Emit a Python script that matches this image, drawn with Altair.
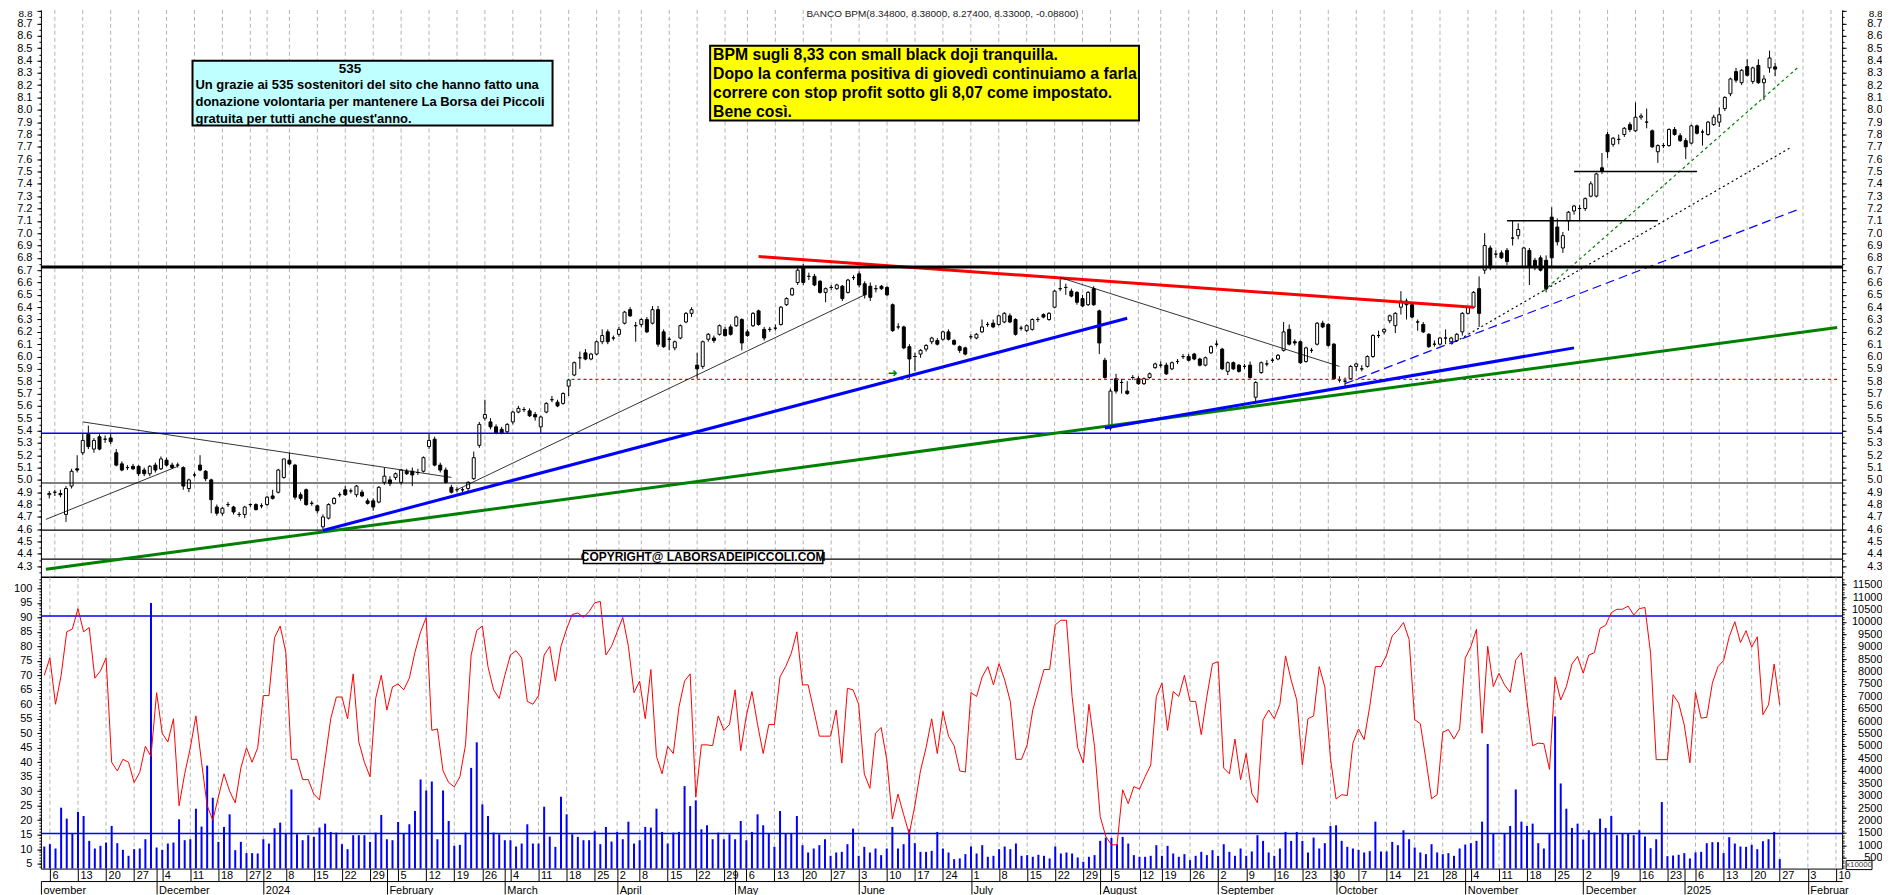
import json
import numpy as np
import pandas as pd
import altair as alt

# ---------------- calendar (Borsa Italiana trading days) ----------------
HOLIDAYS = ["2023-12-25", "2023-12-26", "2024-01-01", "2024-03-29", "2024-04-01",
            "2024-05-01", "2024-08-15", "2024-12-24", "2024-12-25", "2024-12-26",
            "2024-12-31", "2025-01-01"]
_all = pd.bdate_range("2023-11-03", "2025-02-14")
DAYS = _all[~_all.isin(pd.to_datetime(HOLIDAYS))]
POS = {d.strftime("%Y-%m-%d"): i for i, d in enumerate(DAYS)}

WEEK_TICKS = ["2023-11-06", "2023-11-13", "2023-11-20", "2023-11-27", "2023-12-04", "2023-12-11", "2023-12-18",
              "2023-12-27", "2024-01-02", "2024-01-08", "2024-01-15", "2024-01-22", "2024-01-29", "2024-02-05",
              "2024-02-12", "2024-02-19", "2024-02-26", "2024-03-04", "2024-03-11", "2024-03-18", "2024-03-25",
              "2024-04-02", "2024-04-08", "2024-04-15", "2024-04-22", "2024-04-29", "2024-05-06", "2024-05-13",
              "2024-05-20", "2024-05-27", "2024-06-03", "2024-06-10", "2024-06-17", "2024-06-24", "2024-07-01",
              "2024-07-08", "2024-07-15", "2024-07-22", "2024-07-29", "2024-08-05", "2024-08-12", "2024-08-19",
              "2024-08-26", "2024-09-02", "2024-09-09", "2024-09-16", "2024-09-23", "2024-09-30", "2024-10-07",
              "2024-10-14", "2024-10-21", "2024-10-28", "2024-11-04", "2024-11-11", "2024-11-18", "2024-11-25",
              "2024-12-02", "2024-12-09", "2024-12-16", "2024-12-23", "2025-01-06", "2025-01-13", "2025-01-20",
              "2025-01-27", "2025-02-03", "2025-02-10"]
MONTH_TICKS = ["2023-12-01", "2024-01-02", "2024-02-01", "2024-03-01", "2024-04-02", "2024-05-02", "2024-06-03",
               "2024-07-01", "2024-08-01", "2024-09-02", "2024-10-01", "2024-11-01", "2024-12-02", "2025-01-02",
               "2025-02-03"]
FIRST_MONTH_LABEL = "ovember"
MONTH_LABELS = ["December", "2024", "February", "March", "April", "May", "June", "July", "August",
                "September", "October", "November", "December", "2025", "Februar"]

# ---------------- daily OHLC (BANCO BPM) ----------------
OPEN = [
    4.88, 4.90, 4.89, 4.72, 4.95, 5.09, 5.22, 5.37, 5.25, 5.35,
    5.33, 5.34, 5.22, 5.13, 5.10, 5.11, 5.11, 5.08, 5.05, 5.12,
    5.09, 5.16, 5.12, 5.12, 5.10, 4.93, 5.04, 5.12, 5.07, 5.00,
    4.78, 4.73, 4.80, 4.78, 4.72, 4.72, 4.80, 4.80, 4.79, 4.80,
    4.87, 4.90, 5.02, 5.16, 5.12, 4.88, 4.92, 4.81, 4.79, 4.62,
    4.69, 4.81, 4.88, 4.92, 4.91, 4.88, 4.90, 4.83, 4.83, 4.82,
    4.98, 5.00, 5.02, 4.98, 5.07, 5.07, 5.06, 5.07, 5.27, 5.33,
    5.12, 5.08, 4.94, 4.92, 4.92, 4.93, 5.01, 5.28, 5.50, 5.47,
    5.43, 5.41, 5.39, 5.47, 5.55, 5.57, 5.56, 5.53, 5.43, 5.55,
    5.65, 5.63, 5.62, 5.76, 5.85, 5.99, 6.03, 5.98, 6.02, 6.12,
    6.20, 6.15, 6.18, 6.27, 6.38, 6.25, 6.26, 6.30, 6.27, 6.38,
    6.20, 6.14, 6.07, 6.15, 6.28, 6.35, 5.93, 5.92, 6.14, 6.15,
    6.18, 6.22, 6.24, 6.25, 6.30, 6.20, 6.25, 6.37, 6.22, 6.22,
    6.23, 6.26, 6.42, 6.50, 6.60, 6.72, 6.65, 6.65, 6.61, 6.52,
    6.56, 6.55, 6.57, 6.52, 6.64, 6.67, 6.59, 6.57, 6.55, 6.57,
    6.56, 6.42, 6.24, 6.24, 6.08, 6.00, 6.02, 6.06, 6.12, 6.13,
    6.14, 6.20, 6.13, 6.08, 6.07, 6.16, 6.15, 6.20, 6.26, 6.27,
    6.26, 6.28, 6.33, 6.30, 6.23, 6.21, 6.22, 6.30, 6.34, 6.30,
    6.40, 6.55, 6.56, 6.53, 6.52, 6.47, 6.42, 6.55, 6.37, 5.97,
    5.42, 5.82, 5.79, 5.72, 5.83, 5.82, 5.78, 5.83, 5.91, 5.93,
    5.93, 5.90, 5.96, 6.00, 6.00, 6.02, 5.98, 5.93, 6.03, 6.10,
    6.06, 5.88, 5.95, 5.93, 5.92, 5.93, 5.67, 5.87, 5.94, 5.97,
    5.98, 6.05, 6.22, 6.12, 6.12, 5.96, 6.05, 6.10, 6.27, 6.26,
    6.10, 5.81, 5.80, 5.82, 5.92, 5.90, 5.92, 6.00, 6.17, 6.20,
    6.29, 6.25, 6.40, 6.45, 6.42, 6.28, 6.26, 6.18, 6.10, 6.10,
    6.15, 6.12, 6.13, 6.20, 6.35, 6.40, 6.55, 6.70, 6.88, 6.83,
    6.84, 6.86, 6.96, 6.98, 6.73, 6.86, 6.78, 6.80, 6.78, 7.13,
    7.05, 6.88, 7.10, 7.18, 7.20, 7.20, 7.30, 7.30, 7.53, 7.80,
    7.72, 7.76, 7.80, 7.88, 7.83, 7.94, 7.90, 7.83, 7.66, 7.71,
    7.71, 7.84, 7.79, 7.75, 7.73, 7.87, 7.82, 7.80, 7.88, 7.90,
    8.01, 8.13, 8.31, 8.22, 8.35, 8.23, 8.36, 8.22, 8.34, 8.348,
]
HIGH = [
    4.91, 4.92, 4.92, 4.95, 5.09, 5.20, 5.38, 5.44, 5.34, 5.37,
    5.36, 5.38, 5.25, 5.15, 5.12, 5.13, 5.12, 5.10, 5.12, 5.14,
    5.19, 5.18, 5.14, 5.14, 5.11, 5.01, 5.06, 5.20, 5.08, 5.01,
    4.80, 4.78, 4.82, 4.79, 4.74, 4.79, 4.81, 4.81, 4.81, 4.87,
    4.92, 5.09, 5.17, 5.22, 5.13, 4.90, 4.93, 4.83, 4.80, 4.72,
    4.81, 4.86, 4.90, 4.95, 4.93, 4.96, 4.92, 4.85, 4.85, 4.95,
    5.10, 5.03, 5.06, 5.09, 5.09, 5.10, 5.09, 5.19, 5.38, 5.35,
    5.14, 5.10, 4.96, 4.94, 4.94, 4.99, 5.23, 5.47, 5.65, 5.50,
    5.45, 5.43, 5.46, 5.56, 5.60, 5.59, 5.58, 5.55, 5.52, 5.63,
    5.68, 5.65, 5.71, 5.82, 5.96, 6.04, 6.06, 6.03, 6.13, 6.22,
    6.22, 6.17, 6.24, 6.37, 6.40, 6.28, 6.31, 6.32, 6.41, 6.41,
    6.22, 6.16, 6.13, 6.26, 6.36, 6.40, 6.03, 6.13, 6.19, 6.17,
    6.26, 6.24, 6.26, 6.33, 6.31, 6.22, 6.36, 6.38, 6.24, 6.24,
    6.26, 6.41, 6.48, 6.56, 6.73, 6.75, 6.68, 6.67, 6.62, 6.56,
    6.58, 6.59, 6.58, 6.63, 6.66, 6.69, 6.61, 6.60, 6.58, 6.58,
    6.57, 6.43, 6.27, 6.25, 6.10, 6.03, 6.06, 6.10, 6.16, 6.15,
    6.21, 6.22, 6.14, 6.09, 6.08, 6.18, 6.19, 6.30, 6.28, 6.30,
    6.34, 6.36, 6.35, 6.31, 6.25, 6.26, 6.31, 6.32, 6.35, 6.36,
    6.54, 6.63, 6.59, 6.55, 6.53, 6.50, 6.53, 6.57, 6.38, 5.99,
    5.74, 5.86, 5.82, 5.80, 5.85, 5.84, 5.83, 5.87, 5.95, 5.96,
    5.95, 5.96, 5.98, 6.02, 6.02, 6.03, 5.99, 6.00, 6.09, 6.13,
    6.07, 5.96, 5.96, 5.94, 5.94, 5.96, 5.80, 5.96, 5.97, 5.99,
    6.02, 6.28, 6.26, 6.14, 6.13, 6.08, 6.07, 6.28, 6.29, 6.27,
    6.11, 5.84, 5.83, 5.93, 5.95, 5.93, 6.01, 6.18, 6.21, 6.23,
    6.34, 6.36, 6.53, 6.47, 6.43, 6.30, 6.28, 6.19, 6.13, 6.16,
    6.22, 6.16, 6.19, 6.36, 6.41, 6.53, 6.65, 7.00, 6.90, 6.86,
    6.86, 6.88, 7.10, 7.08, 6.89, 6.88, 6.80, 6.82, 6.82, 7.21,
    7.12, 7.01, 7.18, 7.23, 7.23, 7.29, 7.42, 7.49, 7.65, 7.82,
    7.78, 7.80, 7.86, 7.90, 8.06, 7.97, 8.01, 7.84, 7.72, 7.73,
    7.85, 7.86, 7.81, 7.77, 7.88, 7.88, 7.84, 7.91, 7.96, 8.02,
    8.11, 8.26, 8.34, 8.33, 8.41, 8.35, 8.41, 8.28, 8.48, 8.38,
]
LOW = [
    4.85, 4.87, 4.86, 4.66, 4.93, 5.06, 5.20, 5.25, 5.22, 5.24,
    5.30, 5.29, 5.11, 5.07, 5.08, 5.08, 5.03, 5.03, 5.03, 5.06,
    5.08, 5.11, 5.09, 5.10, 4.92, 4.90, 5.02, 5.07, 4.99, 4.73,
    4.71, 4.71, 4.78, 4.72, 4.70, 4.69, 4.78, 4.75, 4.77, 4.79,
    4.84, 4.89, 5.01, 5.12, 4.84, 4.83, 4.79, 4.79, 4.73, 4.60,
    4.68, 4.80, 4.86, 4.87, 4.89, 4.86, 4.86, 4.80, 4.75, 4.81,
    4.96, 4.95, 5.00, 4.96, 5.04, 4.95, 5.04, 5.06, 5.25, 5.11,
    5.06, 4.97, 4.89, 4.90, 4.90, 4.91, 5.00, 5.26, 5.48, 5.41,
    5.37, 5.37, 5.38, 5.45, 5.54, 5.55, 5.51, 5.48, 5.38, 5.54,
    5.63, 5.59, 5.61, 5.68, 5.84, 5.90, 5.97, 5.97, 6.01, 6.10,
    6.10, 6.13, 6.16, 6.26, 6.32, 6.12, 6.24, 6.19, 6.26, 6.08,
    6.07, 6.05, 6.05, 6.14, 6.27, 6.32, 5.82, 5.90, 6.12, 6.11,
    6.17, 6.16, 6.17, 6.24, 6.05, 6.16, 6.24, 6.25, 6.13, 6.20,
    6.21, 6.25, 6.41, 6.49, 6.58, 6.58, 6.62, 6.57, 6.51, 6.44,
    6.54, 6.54, 6.45, 6.51, 6.62, 6.56, 6.47, 6.45, 6.52, 6.54,
    6.49, 6.20, 6.22, 6.06, 5.82, 5.88, 5.99, 6.04, 6.10, 6.09,
    6.13, 6.13, 6.09, 6.03, 6.01, 6.14, 6.14, 6.19, 6.24, 6.23,
    6.25, 6.27, 6.27, 6.17, 6.21, 6.20, 6.21, 6.28, 6.31, 6.29,
    6.39, 6.53, 6.50, 6.48, 6.42, 6.40, 6.41, 6.41, 6.02, 5.82,
    5.40, 5.70, 5.70, 5.69, 5.81, 5.77, 5.77, 5.82, 5.90, 5.91,
    5.85, 5.89, 5.94, 5.98, 5.96, 5.97, 5.92, 5.92, 6.02, 6.08,
    5.89, 5.85, 5.89, 5.87, 5.90, 5.82, 5.62, 5.86, 5.92, 5.95,
    5.97, 6.04, 6.09, 6.09, 5.94, 5.95, 6.03, 6.09, 6.23, 6.08,
    5.81, 5.79, 5.75, 5.81, 5.88, 5.88, 5.91, 5.99, 6.15, 6.18,
    6.27, 6.19, 6.34, 6.30, 6.31, 6.21, 6.19, 6.07, 6.08, 6.09,
    6.10, 6.11, 6.12, 6.17, 6.34, 6.39, 6.24, 6.67, 6.70, 6.80,
    6.79, 6.74, 6.90, 6.95, 6.72, 6.58, 6.70, 6.69, 6.52, 6.72,
    6.90, 6.84, 7.02, 7.15, 7.10, 7.18, 7.29, 7.29, 7.48, 7.61,
    7.70, 7.72, 7.78, 7.82, 7.82, 7.92, 7.85, 7.69, 7.57, 7.69,
    7.70, 7.79, 7.74, 7.60, 7.72, 7.80, 7.71, 7.79, 7.87, 7.86,
    7.99, 8.11, 8.22, 8.20, 8.27, 8.21, 8.21, 8.08, 8.30, 8.274,
]
CLOSE = [
    4.89, 4.90, 4.88, 4.93, 5.07, 5.08, 5.32, 5.27, 5.32, 5.25,
    5.33, 5.31, 5.12, 5.08, 5.10, 5.09, 5.05, 5.05, 5.11, 5.08,
    5.17, 5.12, 5.10, 5.12, 4.95, 5.00, 5.04, 5.08, 5.01, 4.84,
    4.73, 4.77, 4.80, 4.74, 4.72, 4.78, 4.80, 4.76, 4.79, 4.86,
    4.85, 5.08, 5.17, 5.13, 4.86, 4.85, 4.80, 4.81, 4.75, 4.70,
    4.80, 4.85, 4.88, 4.88, 4.91, 4.95, 4.87, 4.81, 4.78, 4.94,
    5.03, 4.97, 5.05, 5.08, 5.05, 5.04, 5.06, 5.18, 5.32, 5.12,
    5.08, 4.98, 4.90, 4.92, 4.92, 4.98, 5.18, 5.45, 5.53, 5.43,
    5.38, 5.38, 5.45, 5.55, 5.58, 5.57, 5.52, 5.51, 5.51, 5.62,
    5.65, 5.60, 5.70, 5.81, 5.95, 5.99, 5.98, 6.02, 6.12, 6.17,
    6.12, 6.15, 6.22, 6.36, 6.33, 6.25, 6.30, 6.20, 6.38, 6.10,
    6.08, 6.14, 6.12, 6.25, 6.35, 6.38, 5.90, 6.12, 6.18, 6.13,
    6.25, 6.17, 6.18, 6.32, 6.11, 6.17, 6.35, 6.26, 6.15, 6.22,
    6.23, 6.40, 6.47, 6.55, 6.70, 6.60, 6.65, 6.58, 6.52, 6.55,
    6.56, 6.58, 6.47, 6.62, 6.64, 6.58, 6.50, 6.48, 6.55, 6.55,
    6.50, 6.21, 6.24, 6.07, 5.98, 6.00, 6.05, 6.09, 6.15, 6.10,
    6.20, 6.14, 6.10, 6.05, 6.02, 6.16, 6.18, 6.24, 6.26, 6.24,
    6.33, 6.35, 6.28, 6.18, 6.23, 6.25, 6.30, 6.30, 6.32, 6.35,
    6.53, 6.55, 6.56, 6.49, 6.44, 6.41, 6.52, 6.42, 6.11, 5.83,
    5.72, 5.72, 5.79, 5.70, 5.83, 5.78, 5.82, 5.86, 5.94, 5.93,
    5.86, 5.95, 5.96, 6.00, 5.97, 5.98, 5.93, 5.99, 6.08, 6.10,
    5.90, 5.95, 5.90, 5.88, 5.92, 5.83, 5.79, 5.95, 5.94, 5.97,
    6.01, 6.20, 6.10, 6.11, 5.95, 6.07, 6.05, 6.27, 6.24, 6.09,
    5.82, 5.81, 5.80, 5.92, 5.94, 5.90, 6.00, 6.17, 6.17, 6.22,
    6.33, 6.35, 6.45, 6.42, 6.32, 6.28, 6.20, 6.08, 6.10, 6.15,
    6.15, 6.15, 6.18, 6.35, 6.40, 6.52, 6.35, 6.90, 6.72, 6.83,
    6.80, 6.77, 6.96, 7.03, 6.88, 6.73, 6.72, 6.70, 6.55, 6.80,
    6.93, 6.98, 7.17, 7.22, 7.20, 7.28, 7.40, 7.48, 7.50, 7.66,
    7.77, 7.76, 7.85, 7.84, 7.94, 7.95, 7.90, 7.70, 7.71, 7.71,
    7.84, 7.80, 7.75, 7.70, 7.87, 7.81, 7.82, 7.90, 7.94, 7.96,
    8.10, 8.25, 8.24, 8.32, 8.28, 8.34, 8.22, 8.25, 8.42, 8.33,
]

# ---------------- stochastic oscillator (left scale) ----------------
STOCH = [
    70, 76, 60, 70, 85, 86, 93, 85, 86.5, 69,
    71.5, 76, 40, 37, 41, 40, 33, 36.5, 45.5, 42,
    64, 50, 47, 55, 25, 36, 45, 56, 40, 25,
    20, 28, 36, 30, 26, 38, 45, 40, 45, 63,
    63, 83, 87, 78, 41, 41, 34, 34, 29, 27,
    41, 55, 62.5, 62.5, 55, 70.5, 47, 40, 35, 62,
    70, 58, 66, 67, 65, 69, 78, 85, 90, 51,
    51.5, 37, 33, 31.5, 35, 46, 77, 85.5, 87, 73,
    65, 62, 70, 77, 78.5, 76, 61, 60, 63, 77,
    80, 68, 80, 86, 91, 91.5, 90, 92, 95, 95.5,
    77, 80, 85, 90, 80, 64, 68, 55, 72, 42,
    36, 45.5, 43, 59, 68, 70.5, 28, 46, 46, 45.7,
    56, 51, 53, 65, 44, 56, 64.4, 53, 43, 53,
    53, 69.5, 73, 77.6, 85, 66.7, 66.7, 58, 49, 49,
    49, 58, 39.7, 65.5, 65, 60, 36, 31, 50, 52,
    41, 20.4, 29, 22, 15.2, 25, 37, 45, 55, 43,
    57.5, 49, 45.7, 37, 36.6, 64, 62.7, 69.5, 73, 66.7,
    74, 68.4, 61, 41, 41, 46, 58, 65, 72, 72,
    87.4, 89, 89, 62.7, 45, 39.7, 60, 45.4, 21.3, 14.4,
    11.5, 11.5, 30.5, 25.7, 31.6, 30.7, 35, 39, 62.7, 67.3,
    51, 64.4, 62.7, 70, 61, 61, 49.5, 62.7, 74, 74.7,
    38, 36, 48, 34, 43, 29.3, 26, 54.6, 58, 55,
    60, 76.7, 68.4, 61.5, 39, 55, 56, 73, 66, 41.4,
    27.3, 28.8, 28.5, 46.6, 51.5, 47.8, 59.3, 73, 73, 77,
    83.6, 85.6, 88.2, 82.4, 54.7, 53.3, 40.9, 27.4, 28.8, 50.3,
    51.3, 48, 51.5, 75.9, 79.9, 85.9, 50, 80, 66.1, 70.7,
    66.7, 64.1, 75.3, 77.8, 61, 45.7, 46.6, 46.4, 37.5, 69.4,
    61.5, 66.1, 73.9, 76.5, 70.7, 77, 77.8, 86.2, 87.3, 91.6,
    92.8, 92.8, 93.9, 90.8, 93, 93.4, 77.6, 40.9, 40.9, 40.9,
    63.3, 60.4, 52.8, 39.8, 64.1, 55.2, 55.5, 67.3, 73, 75.1,
    83.3, 88.5, 81.3, 85.4, 79.7, 83.3, 56.4, 59.8, 73.9, 59.8,
]

# ---------------- volume (right scale, x10000) ----------------
VOLUME = [
    950, 1043, 869, 2513, 2072, 1470, 2339, 2178, 1176, 869,
    976, 1109, 1778, 1083, 815, 575, 842, 869, 1243, 10760,
    909, 815, 1069, 1109, 2045, 1203, 1243, 2473, 1751, 4210,
    2914, 1136, 1738, 2246, 802, 1136, 682, 682, 668, 1243,
    1069, 1684, 1912, 1470, 3248, 1444, 1203, 1404, 1337, 1711,
    1871, 1537, 1510, 1043, 842, 1404, 1404, 1404, 1136, 1510,
    2219, 1243, 1203, 1938, 1470, 1845, 2380, 3649, 3208, 3569,
    1243, 3208, 1978, 976, 1016, 1510, 4117, 5146, 2647, 2178,
    1510, 1444, 1203, 1203, 950, 1069, 1845, 1069, 1069, 2553,
    1350, 936, 2954, 2246, 1444, 1337, 1203, 1203, 1564, 1043,
    1738, 1149, 1537, 1243, 1951, 1069, 1203, 1738, 1711, 2473,
    1537, 1069, 1510, 1537, 3382, 2580, 2807, 1644, 1805, 1243,
    1510, 1243, 1444, 1243, 1978, 1203, 1537, 2246, 1805, 1470,
    936, 2380, 1470, 1470, 2178, 1003, 709, 869, 1003, 1243,
    575, 709, 735, 1043, 1671, 575, 936, 709, 869, 602,
    869, 1738, 869, 1043, 1644, 1083, 735, 735, 775, 1537,
    869, 709, 441, 468, 642, 949, 668, 1003, 535, 575,
    842, 949, 842, 1069, 575, 602, 535, 615, 575, 468,
    949, 668, 709, 668, 508, 334, 535, 602, 1176, 1310,
    1296, 1043, 1337, 1069, 602, 535, 535, 575, 1003, 575,
    976, 668, 535, 642, 401, 575, 735, 602, 802, 575,
    1043, 735, 575, 869, 575, 749, 1404, 1176, 709, 575,
    869, 1537, 1176, 1537, 1176, 709, 1310, 869, 1083, 1778,
    1805, 1176, 936, 869, 815, 709, 762, 1951, 749, 749,
    1136, 1003, 1604, 1243, 909, 709, 642, 1043, 709, 642,
    682, 575, 869, 1029, 1083, 1176, 1951, 5080, 1470, 67,
    1470, 1778, 3248, 1951, 1778, 1871, 1083, 869, 1470, 6189,
    3489, 2473, 1698, 1871, 1229, 1604, 1510, 2072, 1698, 2178,
    1404, 1470, 1470, 1404, 1604, 1350, 882, 1243, 2739, 561,
    588, 615, 682, 468, 709, 735, 1083, 1123, 1123, 682,
    1323, 1069, 949, 936, 1016, 842, 1163, 1243, 1537, 441,
]

# ---------------- drawn levels / trend lines (trading-day index, price) ----------------
H_LEVELS_BLACK_THICK = [6.725]
H_LEVELS_BLUE = [5.378]
H_LEVELS_BLACK = [4.975, 4.593, 4.358]
RED_DASH_LEVEL = (93.5, 320.1, 5.815)
THIN_BLACK_LINES = [(-0.6, 4.68, 23, 5.11), (6, 5.47, 72, 5.02), (73, 4.92, 146, 6.50), (181, 6.64, 231, 5.92)]
THICK_BLUE_LINES = [(49, 4.59, 193, 6.31), (189, 5.42, 273, 6.07)]
THICK_GREEN_LINES = [(-0.6, 4.275, 320.1, 6.235)]
THICK_RED_LINES = [(127, 6.81, 255, 6.40)]
DASHED_BLUE_LINES = [(232, 5.78, 313, 7.19)]
DOTTED_BLACK_LINES = [(251, 6.10, 312, 7.70)]
DOTTED_GREEN_LINES = [(267.5, 6.53, 313, 8.34)]
SHORT_BLACK_LEVELS = [(261, 7.10, 288, 7.10), (273, 7.50, 295, 7.50)]
STOCH_LEVELS = [90.5, 15.4]

TITLE = "BANCO BPM(8.34800, 8.38000, 8.27400, 8.33000, -0.08800)"
NOTE_CYAN_HEAD = "535"
NOTE_CYAN = ["Un grazie ai 535 sostenitori del sito che hanno fatto una",
             "donazione volontaria per mantenere La Borsa dei Piccoli",
             "gratuita per tutti anche quest'anno."]
NOTE_YELLOW = ["BPM sugli 8,33 con small black doji tranquilla.",
               "Dopo la conferma positiva di giovedì continuiamo a farla",
               "correre con stop profit sotto gli 8,07 come impostato.",
               "Bene così."]
COPYRIGHT = "COPYRIGHT@ LABORSADEIPICCOLI.COM"

assert len(OPEN) == len(HIGH) == len(LOW) == len(CLOSE) == len(STOCH) == len(VOLUME) == 310

# ---------------- frames ----------------
cd = pd.DataFrame({"i": np.arange(len(CLOSE)), "o": OPEN, "h": HIGH, "l": LOW, "c": CLOSE,
                   "s": STOCH, "v": VOLUME})
cd["h"] = cd[["h", "o", "c"]].max(axis=1)
cd["l"] = cd[["l", "o", "c"]].min(axis=1)
cd["fill"] = np.where(cd["c"] >= cd["o"], "white", "black")

WEEK_IDX = [POS[d] for d in WEEK_TICKS]
MONTH_IDX = [POS[d] for d in MONTH_TICKS]
wk = pd.DataFrame({"i": WEEK_IDX})

W, H_TOP, H_BOT = 1806, 569, 292
X_DOM = [-0.6, 320.1]
P_DOM = [4.21, 8.81]
S_DOM = [3.3, 103.8]
V_DOM = [60, 11793]
FONT = "Liberation Sans"

xs = alt.Scale(domain=X_DOM, nice=False, zero=False)
ps = alt.Scale(domain=P_DOM, nice=False, zero=False)
ss = alt.Scale(domain=S_DOM, nice=False, zero=False)
vs = alt.Scale(domain=V_DOM, nice=False, zero=False, clamp=True)


def X(f="i"):
    return alt.X(f"{f}:Q", scale=xs, axis=None)


def seg_df(lines):
    return pd.DataFrame(lines, columns=["x1", "y1", "x2", "y2"])


def segs(lines, color, width, dash=None):
    kw = dict(color=color, strokeWidth=width)
    if dash:
        kw["strokeDash"] = dash
    return alt.Chart(seg_df(lines)).mark_rule(**kw).encode(
        x=X("x1"), x2="x2:Q", y=alt.Y("y1:Q", scale=ps, axis=None), y2="y2:Q")


def hlev(levels, color, width):
    return alt.Chart(pd.DataFrame({"y": levels})).mark_rule(color=color, strokeWidth=width).encode(
        y=alt.Y("y:Q", scale=ps, axis=None))


def label(text, x, y, size, weight="normal", align="left", font=FONT, color="black", baseline="middle"):
    return alt.Chart(pd.DataFrame({"t": [text]})).mark_text(
        align=align, baseline=baseline, font=font, fontSize=size, fontWeight=weight, color=color
    ).encode(x=alt.value(x), y=alt.value(y), text="t:N")


def box(x1, y1, x2, y2, fill, sw):
    return alt.Chart(pd.DataFrame({"a": [0]})).mark_rect(fill=fill, stroke="black", strokeWidth=sw).encode(
        x=alt.value(x1), x2=alt.value(x2), y=alt.value(y1), y2=alt.value(y2))


PRICE_TICKS = [round(4.3 + 0.1 * k, 2) for k in range(46)]
PRICE_MINOR = [round(4.25 + 0.05 * k, 3) for k in range(92)]
STOCH_TICKS = list(range(5, 101, 5))
STOCH_MINOR = list(range(4, 104))
VOL_TICKS = list(range(500, 11501, 500))
VOL_MINOR = list(range(100, 11800, 100))

common_ax = dict(title=None, grid=False, labelOverlap=False, labelFont=FONT,
                 labelColor="black", tickColor="black", domainColor="black")
# the top-most price label sits at the very top edge: nudge it slightly so it stays fully visible
TOP_LABEL_SIZE = {"condition": {"test": "datum.value > 8.75", "value": 10}, "value": 11}
TOP_LABEL_OFFSET = {"condition": {"test": "datum.value > 8.75", "value": 2.5}, "value": 0}


def left_axis(vals, fmt, top_fix=False):
    extra = dict(labelFontSize=TOP_LABEL_SIZE, labelOffset=TOP_LABEL_OFFSET) if top_fix else dict(labelFontSize=11)
    return alt.Axis(orient="left", values=vals, format=fmt, tickSize=4, labelPadding=5,
                    minExtent=33, maxExtent=33, **common_ax, **extra)


def right_axis(vals, fmt, top_fix=False):
    extra = dict(labelFontSize=TOP_LABEL_SIZE, labelOffset=TOP_LABEL_OFFSET) if top_fix else dict(labelFontSize=11)
    return alt.Axis(orient="right", values=vals, format=fmt, tickSize=4, labelPadding=36, labelAlign="right",
                    **common_ax, **extra)


def minor_axis(orient, vals):
    return alt.Axis(orient=orient, values=vals, tickSize=2, labels=False, domain=False, title=None, grid=False,
                    tickColor="black")


base = alt.Chart(cd)

# ---------------- top panel: candlesticks ----------------
grid_top = alt.Chart(wk).mark_rule(color="#b4b4b4", strokeDash=[4, 3], strokeWidth=1).encode(x=X())
wick = base.mark_rule(color="black", strokeWidth=1).encode(
    x=X(), y=alt.Y("l:Q", scale=ps, axis=left_axis(PRICE_TICKS, ".1f", True)), y2="h:Q")
body = base.mark_bar(size=3, stroke="black", strokeWidth=1).encode(
    x=X(), y=alt.Y("o:Q", scale=ps, axis=None), y2="c:Q", fill=alt.Fill("fill:N", scale=None))
ax_r = base.mark_point(opacity=0).encode(
    x=X(), y=alt.Y("c:Q", scale=ps, axis=right_axis(PRICE_TICKS, ".1f", True)))
ax_lm = base.mark_point(opacity=0).encode(x=X(), y=alt.Y("c:Q", scale=ps, axis=minor_axis("left", PRICE_MINOR)))
ax_rm = base.mark_point(opacity=0).encode(x=X(), y=alt.Y("c:Q", scale=ps, axis=minor_axis("right", PRICE_MINOR)))

panel_edge = hlev([P_DOM[0]], "black", 1.5)
lv_black_thick = hlev(H_LEVELS_BLACK_THICK, "black", 3)
lv_blue = hlev(H_LEVELS_BLUE, "#0000ff", 1.5)
lv_black = hlev(H_LEVELS_BLACK, "black", 1.2)
red_dash = segs([(RED_DASH_LEVEL[0], RED_DASH_LEVEL[2], RED_DASH_LEVEL[1], RED_DASH_LEVEL[2])],
                "#ff0000", 1.2, [3, 3])
thin_black = segs(THIN_BLACK_LINES, "black", 0.8)
green_thick = segs(THICK_GREEN_LINES, "#008000", 3)
blue_thick = segs(THICK_BLUE_LINES, "#0000ff", 3)
red_thick = segs(THICK_RED_LINES, "#ff0000", 3)
blue_dash = segs(DASHED_BLUE_LINES, "#0000ff", 1.2, [9, 5])
black_dot = segs(DOTTED_BLACK_LINES, "black", 1.2, [2, 3])
green_dot = segs(DOTTED_GREEN_LINES, "#008000", 1.2, [3, 3])
short_black = segs(SHORT_BLACK_LEVELS, "black", 1.5)
arrow = alt.Chart(pd.DataFrame({"x": [151], "y": [5.865], "t": ["➜"]})).mark_text(
    color="#008000", fontSize=12, font="DejaVu Sans", fontWeight="bold").encode(
    x=X("x"), y=alt.Y("y:Q", scale=ps, axis=None), text="t:N")

title = label(TITLE, 904, 4.5, 10, align="center", color="#202020")
cyan = [box(152, 51, 513, 116, "#c0ffff", 2),
        label(NOTE_CYAN_HEAD, 310, 59, 13.5, "bold", "center")]
cyan += [label(t, 155, 75 + 17 * k, 13, "bold", "left") for k, t in enumerate(NOTE_CYAN)]
yellow = [box(671, 36, 1101, 111, "#ffff00", 2)]
yellow += [label(t, 674, 45 + 19 * k, 15.8, "bold") for k, t in enumerate(NOTE_YELLOW)]
copy_box = [box(544, 542, 784, 555, "white", 1.5), label(COPYRIGHT, 664, 549, 12, "bold", "center")]

top = alt.layer(
    grid_top, wick, body, ax_r, ax_lm, ax_rm,
    lv_black, lv_blue, red_dash, green_thick, blue_thick, red_thick, thin_black,
    blue_dash, black_dot, green_dot, short_black, lv_black_thick, panel_edge, arrow,
    title, *cyan, *yellow, *copy_box,
).resolve_axis(y="independent").properties(width=W, height=H_TOP)

# ---------------- bottom panel: stochastic + volume ----------------
day_vals = sorted(set(WEEK_IDX) | set(MONTH_IDX))
day_labs = [str(DAYS[v].day) if v in WEEK_IDX else "" for v in day_vals]
day_expr = f"{json.dumps(day_labs)}[indexof({json.dumps(day_vals)}, datum.value)]"
mon_vals = [X_DOM[0]] + MONTH_IDX
mon_labs = [FIRST_MONTH_LABEL] + MONTH_LABELS
mon_expr = f"{json.dumps(mon_labs)}[indexof({json.dumps(mon_vals)}, datum.value)]"

day_axis = alt.Axis(orient="bottom", values=day_vals, labelExpr=day_expr, tickSize=12.5, labelPadding=-5.5,
                    labelAlign="left", labelBaseline="middle", labelOffset=2, labelFontSize=11, **common_ax)
mon_axis = alt.Axis(orient="bottom", values=mon_vals, labelExpr=mon_expr, tickSize=13, labelPadding=-4,
                    labelAlign="left", labelBaseline="middle", labelOffset=2, offset=12.5, labelFontSize=11,
                    **common_ax)

grid_bot = alt.Chart(wk).mark_rule(color="#b4b4b4", strokeDash=[4, 3], strokeWidth=1).encode(
    x=alt.X("i:Q", scale=xs, axis=day_axis))
vol = base.mark_rule(color="#0000ff", strokeWidth=2).encode(
    x=alt.X("i:Q", scale=xs, axis=mon_axis),
    y=alt.Y("v:Q", scale=vs, axis=right_axis(VOL_TICKS, "d")), y2=alt.datum(V_DOM[0]))
vol_minor = base.mark_point(opacity=0).encode(
    x=X(), y=alt.Y("v:Q", scale=vs, axis=minor_axis("right", VOL_MINOR)))
stoch_levels = alt.Chart(pd.DataFrame({"y": STOCH_LEVELS})).mark_rule(color="#0000ff", strokeWidth=1.5).encode(
    y=alt.Y("y:Q", scale=ss, axis=None))
stoch = base.mark_line(color="#ff0000", strokeWidth=1).encode(
    x=X(), y=alt.Y("s:Q", scale=ss, axis=left_axis(STOCH_TICKS, "d")))
stoch_minor = base.mark_point(opacity=0).encode(
    x=X(), y=alt.Y("s:Q", scale=ss, axis=minor_axis("left", STOCH_MINOR)))
unit_box = [box(1810, 284, 1836, 293, "white", 1),
            label("x10000", 1823, 288.5, 8, align="center", color="#404040")]

bottom = alt.layer(
    grid_bot, vol, vol_minor, stoch_levels, stoch, stoch_minor, *unit_box
).resolve_scale(y="independent").resolve_axis(y="independent", x="independent").properties(width=W, height=H_BOT)

chart = alt.vconcat(top, bottom, spacing=0, bounds="flush").properties(
    padding={"left": 0, "top": -1.3, "right": 0, "bottom": 0}
).configure_view(strokeWidth=0)

chart.save("out.html", embed_options={"renderer": "svg", "actions": False})
